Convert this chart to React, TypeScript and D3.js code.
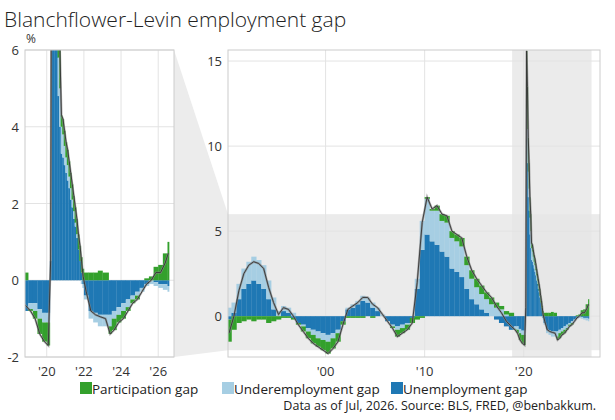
import * as d3 from 'd3'

// decimal-year dates (semiannual before 2019, then finer)
const dates = [
  1990, 1990.5, 1991, 1991.5, 1992, 1992.5, 1993, 1993.5, 1994, 1994.5, 1995, 1995.5, 1996, 1996.5,
  1997, 1997.5, 1998, 1998.5, 1999, 1999.5, 2000, 2000.5, 2001, 2001.5, 2002, 2002.5, 2003, 2003.5,
  2004, 2004.5, 2005, 2005.5, 2006, 2006.5, 2007, 2007.5, 2008, 2008.5, 2009, 2009.5, 2010, 2010.5,
  2011, 2011.5, 2012, 2012.5, 2013, 2013.5, 2014, 2014.5, 2015, 2015.5, 2016, 2016.5, 2017, 2017.5,
  2018, 2018.5,
  2019, 2019.25, 2019.5, 2019.75, 2020, 2020.167, 2020.25, 2020.333, 2020.417, 2020.5, 2020.583, 2020.667,
  2020.75, 2020.833, 2020.917, 2021, 2021.083, 2021.167, 2021.25, 2021.333, 2021.417, 2021.5, 2021.583,
  2021.667, 2021.75, 2021.833, 2021.917, 2022, 2022.25, 2022.5, 2022.75, 2023, 2023.33, 2023.5, 2023.75,
  2024, 2024.25, 2024.5, 2024.75, 2025, 2025.25, 2025.5, 2025.75, 2026, 2026.25, 2026.5,
]
const unemployment = [
  -0.2, 0.2, 1.0, 1.6, 1.9, 2.1, 1.9, 1.6, 1.0, 0.4, 0, 0.3, 0.2, -0.1,
  -0.4, -0.5, -0.7, -0.8, -0.9, -1.0, -1.1, -1.0, -0.8, -0.3, 0.4, 0.5, 0.7, 0.9,
  0.8, 0.5, 0.3, 0, -0.3, -0.5, -0.6, -0.5, -0.4, -0.1, 1.6, 3.9, 4.8, 4.4,
  4.2, 3.8, 3.5, 2.8, 2.6, 2.3, 1.6, 1.0, 0.7, 0.4, 0.2, 0.0, -0.2, -0.4,
  -0.6, -0.8,
  -0.6, -0.6, -0.75, -0.85, -0.85, 0.5, 10.4, 9.0, 7.0, 6.2, 4.8, 4.0,
  3.3, 3.2, 3.0, 2.8, 2.6, 2.4, 2.1, 1.9, 1.6, 1.4, 1.1,
  0.8, 0.5, 0.2, -0.1, -0.4, -0.8, -0.85, -0.9, -0.9, -0.9, -0.8, -0.7,
  -0.6, -0.5, -0.4, -0.3, -0.2, -0.1, 0, -0.05, -0.1, -0.1, -0.15,
]
const underemployment = [
  0.5, 0.6, 0.9, 1.2, 1.3, 1.4, 1.4, 1.4, 1.1, 0.7, 0.3, 0.3, 0.3, 0.2,
  0, -0.1, -0.2, -0.3, -0.4, -0.4, -0.4, -0.3, -0.2, 0, 0.1, 0.2, 0.2, 0.3,
  0.3, 0.3, 0.2, 0.1, 0, -0.1, -0.2, -0.2, -0.1, 0, 0.6, 1.7, 2.1, 1.8,
  2.0, 1.8, 2.0, 1.8, 1.8, 1.8, 1.4, 1.2, 1.0, 0.9, 0.8, 0.7, 0.5, 0.4,
  0.1, 0,
  -0.15, -0.2, -0.25, -0.25, -0.25, 0, 1.8, 2.0, 1.5, 1.3, 1.0, 1.0,
  0.7, 0.6, 0.5, 0.4, 0.4, 0.3, 0.3, 0.2, 0.2, 0.1, 0.1,
  0, 0, -0.1, -0.1, -0.1, -0.2, -0.25, -0.3, -0.3, -0.3, -0.2, -0.2,
  -0.2, -0.2, -0.1, -0.1, -0.1, -0.05, -0.1, -0.1, -0.1, -0.15, -0.15,
]
const participation = [
  -1.3, -0.8, -0.4, -0.3, -0.2, -0.3, -0.2, -0.2, -0.4, -0.3, -0.2, -0.1, -0.1, -0.1,
  -0.1, -0.3, -0.4, -0.5, -0.5, -0.6, -0.7, -0.6, -0.5, -0.2, -0.1, -0.1, -0.1, -0.1,
  0, -0.1, 0, 0, 0, -0.1, -0.4, -0.3, -0.3, -0.3, -0.2, -0.1, 0.1, 0.1,
  0.3, 0.4, 0.4, 0.4, 0.4, 0.5, 0.5, 0.5, 0.5, 0.5, 0.4, 0.4, 0.3, 0.2,
  0.2, 0.2,
  -0.05, -0.2, -0.4, -0.5, -0.6, 0, 3.4, 2.5, 2.0, 1.5, 1.2, 1.0,
  0.3, 0.4, 0.4, 0.4, 0.4, 0.4, 0.4, 0.4, 0.4, 0.4, 0.4,
  0.4, 0.4, 0.4, 0.3, 0.2, 0.2, 0.2, 0.25, 0.2, -0.2, -0.3, -0.2,
  -0.2, -0.1, -0.1, -0.1, 0, 0.05, 0.1, 0.35, 0.4, 0.7, 1.0,
]

const series = [
  { name: 'Unemployment gap', color: '#1f78b4', values: unemployment },
  { name: 'Underemployment gap', color: '#a6cee3', values: underemployment },
  { name: 'Participation gap', color: '#33a02c', values: participation },
]
const legendOrder = [2, 1, 0]

const W = 615
const H = 420
const font = '"Open Sans", sans-serif'

interface Seg { x0: number; x1: number; y0: number; y1: number; color: string }

function buildSegs(): Seg[] {
  const segs: Seg[] = []
  dates.forEach((d, i) => {
    const next = i < dates.length - 1 ? dates[i + 1] : d + 1 / 12
    let pos = 0
    let neg = 0
    series.forEach(s => {
      const v = s.values[i]
      if (v >= 0) { segs.push({ x0: d, x1: next, y0: pos, y1: pos + v, color: s.color }); pos += v }
      else { segs.push({ x0: d, x1: next, y0: neg, y1: neg + v, color: s.color }); neg += v }
    })
  })
  return segs
}
const totals = dates.map((_, i) => series.reduce((a, s) => a + s.values[i], 0))

function Panel({ id, x, y, ticksX, ticksY, fmtX }: {
  id: string
  x: d3.ScaleLinear<number, number>
  y: d3.ScaleLinear<number, number>
  ticksX: number[]
  ticksY: number[]
  fmtX: (v: number) => string
}) {
  const [xl, xr] = x.range()
  const [yb, yt] = y.range()
  const segs = buildSegs()
  const mid = (i: number) => i < dates.length - 1 ? (dates[i] + dates[i + 1]) / 2 : dates[i] + 1 / 24
  const line = d3.line<number>()
    .x((_, i) => x(mid(i)))
    .y(v => y(v))
  return (
    <g>
      <defs>
        <clipPath id={id}><rect x={xl} y={yt} width={xr - xl} height={yb - yt} /></clipPath>
      </defs>
      {ticksY.map(t => (
        <g key={'y' + t}>
          <line x1={xl} x2={xr} y1={y(t)} y2={y(t)} stroke="#e3e3e3" />
          <text x={xl - 6} y={y(t) + 5} textAnchor="end" fontSize={13} fill="#333">{t}</text>
        </g>
      ))}
      {ticksX.map(t => (
        <g key={'x' + t}>
          <line x1={x(t)} x2={x(t)} y1={yt} y2={yb} stroke="#e3e3e3" />
          <text x={x(t)} y={yb + 19} textAnchor="middle" fontSize={13} fill="#333">{fmtX(t)}</text>
        </g>
      ))}
      <g clipPath={`url(#${id})`}>
        {segs.map((s, i) => (
          <rect key={i} x={x(s.x0)} width={Math.max(0.6, x(s.x1) - x(s.x0) + 0.3)}
            y={Math.min(y(s.y0), y(s.y1))} height={Math.abs(y(s.y1) - y(s.y0))} fill={s.color} />
        ))}
        <path d={line(totals) ?? ''} fill="none" stroke="#888" strokeWidth={2.2} opacity={0.7} />
        <path d={line(totals) ?? ''} fill="none" stroke="#333" strokeWidth={0.9} />
      </g>
      <rect x={xl} y={yt} width={xr - xl} height={yb - yt} fill="none" stroke="#ccc" />
    </g>
  )
}

export default function App() {
  const xL = d3.scaleLinear().domain([2018.83, 2026.85]).range([25, 174])
  const yL = d3.scaleLinear().domain([-2, 6]).range([357, 50])
  const xR = d3.scaleLinear().domain([1990.15, 2027.7]).range([228, 600])
  const yR = d3.scaleLinear().domain([-2.4, 15.65]).range([357, 50])
  const shade = '#e6e6e6'
  return (
    <svg width={W} height={H} style={{ position: 'absolute', left: 0, top: 0, fontFamily: font }}>
      <rect width={W} height={H} fill="#fff" />
      <text x={4} y={27} fontSize={21} fill="#222" fontWeight={300}>Blanchflower-Levin employment gap</text>
      <text x={26} y={43} fontSize={12} fill="#333">%</text>
      <polygon points={`${xL.range()[1]},${yL(6)} ${xR.range()[0]},${yR(6)} ${xR.range()[0]},${yR(-2)} ${xL.range()[1]},${yL(-2)}`} fill="#ececec" />
      <rect x={228} y={yR(6)} width={372} height={yR(-2) - yR(6)} fill={shade} opacity={0.8} />
      <rect x={xR(2018.83)} y={50} width={xR(2026.85) - xR(2018.83)} height={307} fill={shade} opacity={0.8} />
      <Panel id="cl" x={xL} y={yL} ticksX={[2020, 2022, 2024, 2026]} ticksY={[-2, 0, 2, 4, 6]}
        fmtX={v => "'" + String(v).slice(2)} />
      <Panel id="cr" x={xR} y={yR} ticksX={[2000, 2010, 2020]} ticksY={[0, 5, 10, 15]}
        fmtX={v => "'" + String(v).slice(2)} />
      {(() => {
        const pos = [80, 222, 391]
        return legendOrder.map((si, k) => (
          <g key={si}>
            <rect x={pos[k]} y={382} width={12} height={12} fill={series[si].color} />
            <text x={pos[k] + 12} y={394} fontSize={13.5} fill="#222">{series[si].name}</text>
          </g>
        ))
      })()}
      <text x={596} y={410} textAnchor="end" fontSize={12.5} fill="#222">Data as of Jul, 2026. Source: BLS, FRED, @benbakkum.</text>
    </svg>
  )
}
